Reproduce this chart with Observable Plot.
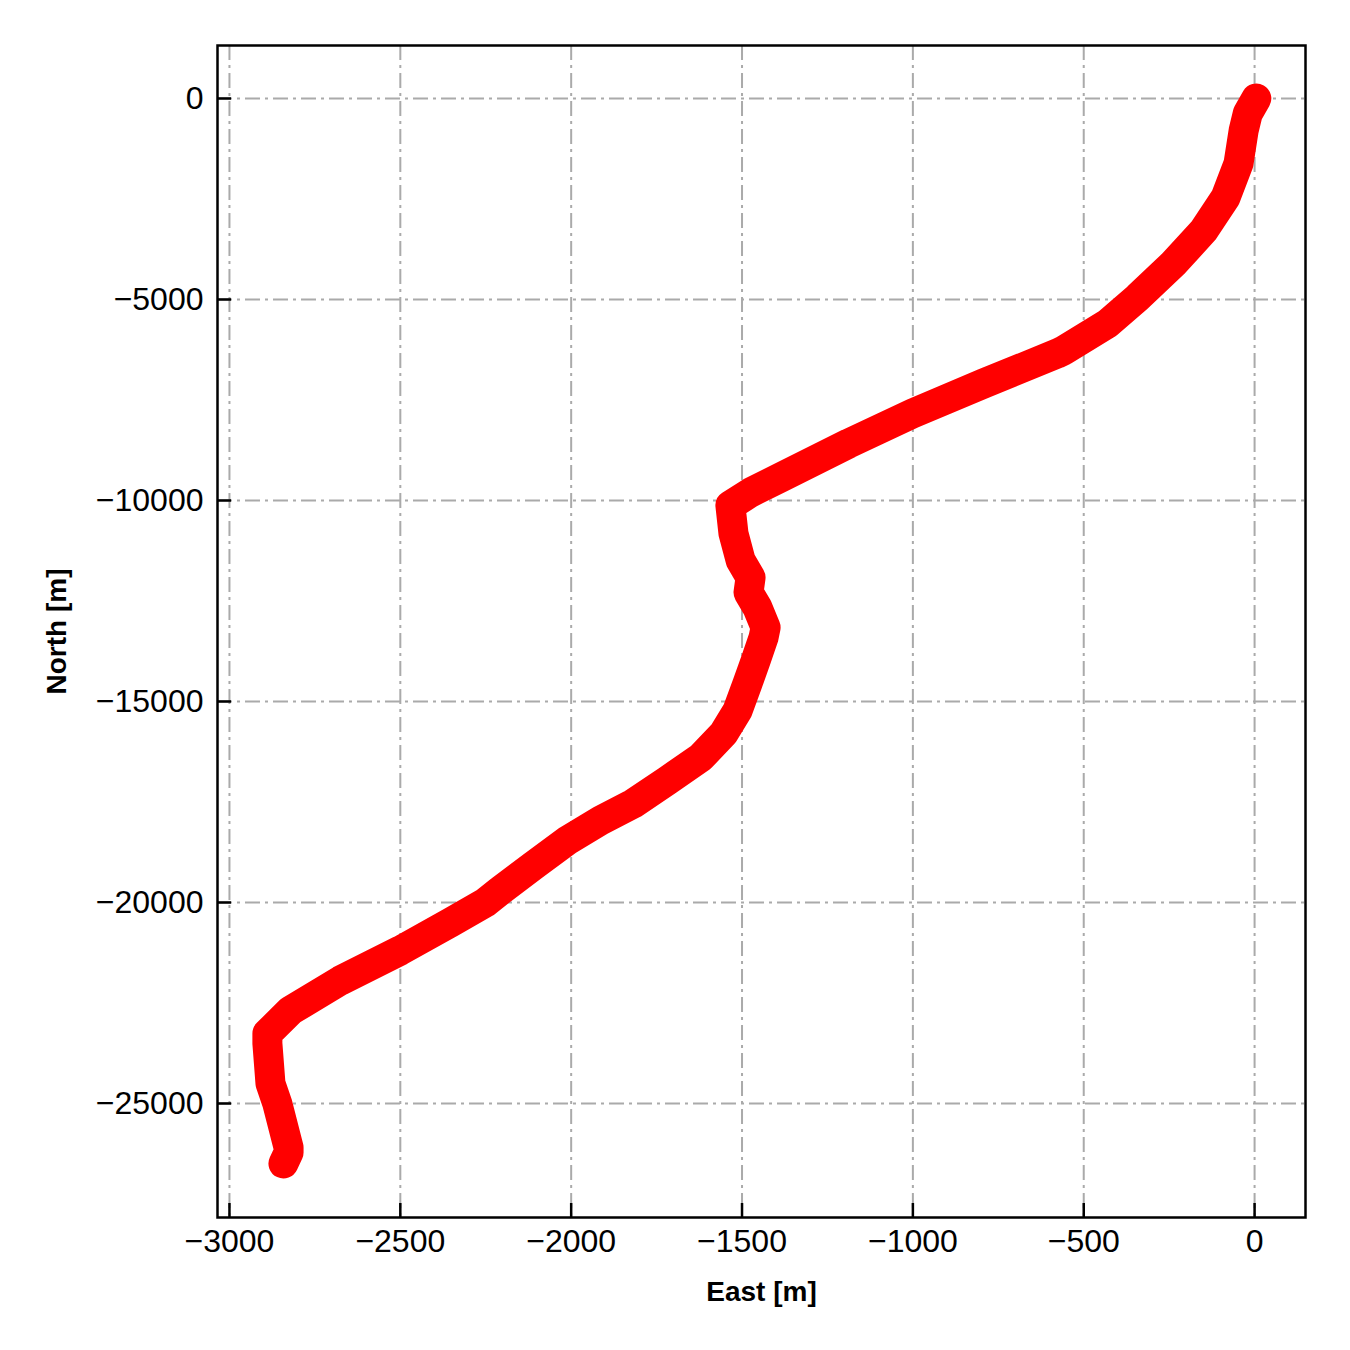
<!DOCTYPE html>
<html>
<head>
<meta charset="utf-8">
<script src="https://cdn.jsdelivr.net/npm/d3@7"></script>
<script src="https://cdn.jsdelivr.net/npm/@observablehq/plot@0.6"></script>
<style>
  html, body { margin: 0; padding: 0; background: #fff; }
  #chart { width: 1350px; height: 1350px; }
</style>
</head>
<body>
<div id="chart"></div>
<script>
// Track (East, North) in metres
const eastM = [5, -20, -32, -47, -85, -149, -237, -342, -430, -559, -577, -793, -1001, -1188, -1387, -1475, -1534,
  -1525, -1504, -1475, -1481, -1455, -1431, -1437, -1460, -1484, -1513, -1554, -1621, -1718, -1818, -1914, -2011, -2110,
  -2207, -2251, -2353, -2500, -2675, -2821, -2889, -2889, -2880, -2860, -2827, -2827, -2842];
const northM = [0, -373, -796, -1617, -2463, -3284, -4104, -4950, -5597, -6269, -6343, -7090, -7836, -8582, -9428, -9801, -10124,
  -10821, -11493, -11915, -12289, -12662, -13159, -13408, -13980, -14552, -15224, -15796, -16393, -16965, -17537, -17960, -18458, -19080,
  -19701, -20000, -20498, -21194, -21940, -22687, -23259, -23507, -24502, -25000, -26095, -26219, -26493];

const xTicks = [-3000, -2500, -2000, -1500, -1000, -500, 0];
const yTicks = [0, -5000, -10000, -15000, -20000, -25000];
const xDomain = [-3035, 149];
const yDomain = [-27836, 1318];
const xLabel = "East [m]";
const yLabel = "North [m]";

const track = eastM.map((e, i) => ({east: e, north: northM[i]}));
const fmt = d => d < 0 ? "\u2212" + Math.abs(d) : String(d);

const W = 1350, H = 1350;
const mL = 217, mR = 45, mT = 45, mB = 133;
const plotW = W - mL - mR, plotH = H - mT - mB;
const tickLen = 14;

const chart = Plot.plot({
  width: W,
  height: H,
  marginLeft: mL,
  marginRight: mR,
  marginTop: mT,
  marginBottom: mB,
  style: {fontFamily: "'Liberation Sans', Arial, Helvetica, sans-serif", background: "#fff", color: "#000"},
  x: {domain: xDomain},
  y: {domain: yDomain},
  marks: [
    Plot.gridX(xTicks, {stroke: "#aaaaaa", strokeOpacity: 1, strokeWidth: 2, strokeDasharray: "15,5,3,5"}),
    Plot.gridY(yTicks, {stroke: "#aaaaaa", strokeOpacity: 1, strokeWidth: 2, strokeDasharray: "15,5,3,5"}),
    Plot.line(track, {x: "east", y: "north", stroke: "#ff0000", strokeWidth: 30, strokeLinecap: "round", strokeLinejoin: "round"}),
    // inward tick marks
    Plot.tickX(xTicks, {x: d => d, stroke: "#000", strokeWidth: 2.5, insetTop: plotH - tickLen}),
    Plot.tickY(yTicks, {y: d => d, stroke: "#000", strokeWidth: 2.5, insetRight: plotW - tickLen}),
    Plot.axisX(xTicks, {tickSize: 0, tickPadding: 12, tickFormat: fmt, fontSize: 32, fill: "#000", label: null}),
    Plot.axisY(yTicks, {tickSize: 0, tickPadding: 14, tickFormat: fmt, fontSize: 32, fill: "#000", label: null}),
    Plot.frame({stroke: "#000", strokeWidth: 2.5}),
    Plot.text([xLabel], {text: d => d, frameAnchor: "bottom", textAnchor: "middle", lineAnchor: "bottom", dy: 83, fontSize: 28, fontWeight: "bold", fill: "#000"}),
    Plot.text([yLabel], {text: d => d, frameAnchor: "left", textAnchor: "middle", lineAnchor: "middle", dx: -160, rotate: -90, fontSize: 28, fontWeight: "bold", fill: "#000"})
  ]
});
document.getElementById("chart").appendChild(chart);
</script>
</body>
</html>
